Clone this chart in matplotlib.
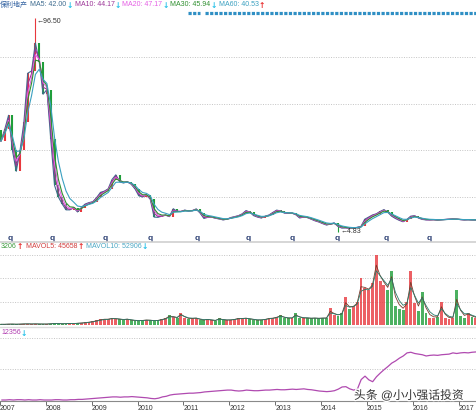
import numpy as np
import pandas as pd
import matplotlib
matplotlib.use('Agg')
import matplotlib.pyplot as plt
from matplotlib import patheffects as pe
from matplotlib.transforms import blended_transform_factory
from matplotlib.lines import Line2D

plt.rcParams['font.family'] = ['Liberation Sans', 'Noto Sans CJK SC', 'DejaVu Sans']

# monthly closes, Jan 2007 .. May 2017
closes = [44, 49, 55, 40, 31, 40, 52, 73, 74, 86, 78, 64,
          66, 45, 25, 20, 17, 14.5, 14.5, 15.5, 13.6, 15.5, 17, 17.6,
          18, 19.8, 22, 22.5, 23.5, 27.5, 29.5, 26.5, 26, 26.5, 25.5, 23.5,
          20.5, 20, 21, 19, 11.4, 11.3, 11.8, 12.3, 11.6, 15, 13.8, 13.8,
          14.4, 14, 14.2, 14.9, 13.1, 10.8, 11.3, 11.4, 10.9, 10.6, 10.2, 10.5,
          11.2, 11.6, 12, 12.8, 14.2, 13.5, 12, 11.4, 11, 11.8, 12.3, 13.4,
          14.4, 14, 13.1, 13, 13.1, 12.4, 11, 11.4, 11.2, 10.5, 9.8, 9.3,
          8.6, 8, 8.4, 8.9, 7.4, 6.7, 6.8, 6.6, 6.7, 7, 7.4, 10.5,
          11.4, 12.3, 12.8, 13.8, 14.6, 13.5, 11.8, 10.8, 10, 9.4, 10.4, 11.8,
          12, 11, 10.4, 10.2, 10.2, 10.3, 10.1, 10.3, 10.4, 10.5, 10.6, 10.5,
          10.3, 10.2, 10.3, 10.2, 10.2]
first_open = 48.5

# volume (grid units), same months
volumes = [0.03, 0.03, 0.04, 0.04, 0.03, 0.04, 0.05, 0.05, 0.04, 0.05, 0.04, 0.04,
           0.04, 0.06, 0.07, 0.06, 0.05, 0.06, 0.07, 0.06, 0.08, 0.09, 0.11, 0.13,
           0.16, 0.2, 0.24, 0.26, 0.25, 0.3, 0.27, 0.24, 0.22, 0.26, 0.2, 0.18,
           0.18, 0.2, 0.22, 0.2, 0.18, 0.2, 0.25, 0.3, 0.43, 0.35, 0.3, 0.53,
           0.3, 0.25, 0.28, 0.3, 0.22, 0.2, 0.25, 0.2, 0.18, 0.3, 0.22, 0.2,
           0.22, 0.25, 0.3, 0.28, 0.3, 0.25, 0.22, 0.2, 0.22, 0.25, 0.3, 0.3,
           0.35, 0.43, 0.3, 0.28, 0.3, 0.5, 0.3, 0.28, 0.3, 0.28, 0.3, 0.28,
           0.3, 0.3, 0.73, 0.45, 0.4, 0.5, 1.2, 0.7, 0.8, 1.0, 2.0, 1.6,
           1.5, 1.8, 3.0, 1.9, 1.7, 1.5, 2.3, 0.8, 0.7, 0.64, 1.0, 2.3,
           0.94, 0.6, 1.4, 0.5, 0.3, 0.3, 0.35, 1.0, 0.3, 0.25, 0.3, 1.5,
           0.4, 0.3, 0.5, 0.35, 0.3]

# lower indicator line
obv = [0.0, 0.0, 0.01, 0.0, 0.01, 0.01, 0.0, 0.01, 0.0, 0.0, 0.01, 0.0,
       0.0, 0.0, 0.01, 0.01, 0.0, 0.0, 0.01, 0.01, 0.02, 0.02, 0.03, 0.04,
       0.05, 0.06, 0.07, 0.08, 0.09, 0.1, 0.1, 0.09, 0.1, 0.1, 0.11, 0.1,
       0.09, 0.08, 0.07, 0.05, 0.04, 0.06, 0.1, 0.12, 0.16, 0.18, 0.19, 0.2,
       0.21, 0.22, 0.22, 0.23, 0.24, 0.26, 0.27, 0.28, 0.29, 0.3, 0.31, 0.32,
       0.32, 0.3, 0.29, 0.3, 0.32, 0.31, 0.3, 0.3, 0.31, 0.32, 0.32, 0.33,
       0.34, 0.33, 0.33, 0.34, 0.35, 0.34, 0.35, 0.36, 0.34, 0.33, 0.31, 0.29,
       0.28, 0.27, 0.28, 0.3, 0.35, 0.42, 0.43, 0.36, 0.32, 0.35, 0.66, 0.77,
       0.65, 0.59, 0.75, 0.87, 0.98, 1.08, 1.19, 1.26, 1.35, 1.42, 1.52, 1.54,
       1.5, 1.48, 1.46, 1.42, 1.44, 1.45, 1.44, 1.46, 1.47, 1.48, 1.52, 1.5,
       1.52, 1.53, 1.52, 1.54, 1.55]

peak_month, peak_price = 9, 96.50
low_month, low_price = 88, 4.83
exright_months = [2.4, 13.3, 27.2, 39.1, 51.2, 64.5, 76.0, 87.7, 100.5, 111.8]
event_spans = [(48.8, 51.9), (53.3, 124.3)]
years = list(range(2007, 2018))

ma_names = ['MA5', 'MA10', 'MA20', 'MA30', 'MA60']
ma_values = ['42.00', '44.17', '47.17', '45.94', '40.53']
ma_dirs = ['↓', '↓', '↓', '↓', '↑']
ma_colors = ['#3d6b8f', '#9b3497', '#e55fe5', '#2f8f2f', '#3aa0c0']
ma_spans = [1, 1.5, 2, 2.5, 4]   # daily MAs approximated on monthly data

UP, DOWN = '#e8383d', '#1f9e3a'
CYAN, RED = '#25c0e8', '#e82c2c'

s = pd.Series(closes, dtype=float)
opens = np.r_[first_open, s.values[:-1]]
n = len(s)
m = np.arange(n)
up = s.values >= opens
cols = np.where(up, UP, DOWN)

W, H = 477, 412
fig = plt.figure(figsize=(W / 100, H / 100), dpi=100)
fig.patch.set_facecolor('white')
renderer = fig.canvas.get_renderer()

def fx(px):
    return px / W

def fy(px):
    return 1 - px / H

def label(x, y, txt, color, arrow=None, size=5):
    # text followed by a small up/down arrow; returns right end in px
    t = fig.text(fx(x), fy(y), txt, fontsize=size, color=color, va='center')
    x1 = t.get_window_extent(renderer).x1
    if arrow:
        fig.text(fx(x1 + 3), fy(y), arrow, fontsize=5.5, fontweight='bold',
                 color=CYAN if arrow == '↓' else RED, va='center', ha='center',
                 family=['DejaVu Sans'])
        x1 += 5.5
    return x1

xlim = (-0.24, 124.3)

# ---------- price panel
ax = fig.add_axes([0, fy(236), 1, (236 - 10) / H])
ax.set_xlim(xlim)
ax.set_ylim(3.3, 100.1)
for y in [20, 40, 60, 80]:
    ax.axhline(y, color='#c4c4c4', lw=0.7, ls=(0, (1, 1.5)), zorder=0)
ax.vlines(m, np.minimum(opens, s), np.maximum(opens, s), colors=cols, lw=1.5, zorder=2)
ax.vlines([peak_month], [max(opens[peak_month], closes[peak_month])], [peak_price],
          colors=UP, lw=0.8, zorder=2)
ax.vlines([low_month], [low_price], [min(opens[low_month], closes[low_month])],
          colors=DOWN, lw=0.8, zorder=2)
for sp, c in zip(ma_spans, ma_colors):
    ax.plot(m, s.ewm(span=sp).mean(), color=c, lw=0.8, zorder=3)
ax.annotate('←96.50', xy=(peak_month, peak_price), xytext=(1, -2.5),
            textcoords='offset points', fontsize=5, color='#333333', va='center')
ax.annotate('←4.83', xy=(low_month, low_price), xytext=(1.5, 0.5),
            textcoords='offset points', fontsize=5, color='#333333', va='center')
tr = blended_transform_factory(ax.transData, ax.transAxes)
for a, b in event_spans:
    ax.plot([a, b], [0.985, 0.985], transform=tr, color='#2f8fc4', lw=2.3,
            ls=(0, (1.0, 0.45)), dash_capstyle='butt', clip_on=False)
ax.axis('off')

trq = blended_transform_factory(ax.transData, fig.transFigure)
for q in exright_months:
    ax.text(q, fy(238.5), 'q', transform=trq, fontsize=6, fontweight='bold',
            color='#2b3f73', ha='center', va='center', clip_on=False)
fig.add_artist(Line2D([0, 1], [fy(242), fy(242)], color='#cfcfcf', lw=1.2))

# header text
end = label(0, 5, '保利地产', '#3060a0')
ma_x = [28.5, 71, 119, 167, 216]
for nm, v, d, c, x0 in zip(ma_names, ma_values, ma_dirs, ma_colors, ma_x):
    end = label(max(x0, end + 2.5), 5, f'{nm}: {v}', c, d)

# ---------- volume panel
axv = fig.add_axes([0, fy(326), 1, (326 - 250) / H])
axv.set_xlim(xlim)
axv.set_ylim(-1 / 23.3, 75 / 23.3)
for y in [1, 2, 3]:
    axv.axhline(y, color='#c4c4c4', lw=0.7, ls=(0, (1, 1.5)), zorder=0)
vs = pd.Series(volumes)
axv.bar(m, vs, width=0.75, color=cols, alpha=0.8, lw=0, zorder=2)
axv.plot(m, vs.ewm(span=2).mean(), color='#7a3a2a', lw=0.6, zorder=3)
axv.plot(m, vs.ewm(span=3).mean(), color='#2a7a6a', lw=0.6, zorder=3)
axv.axis('off')
fig.add_artist(Line2D([0, 1], [fy(327), fy(327)], color='#dcdcdc', lw=1.0))

end = label(1, 247, '3206', '#3c9a3c', '↑')
end = label(max(26, end + 2.5), 247, 'MAVOL5: 45658', '#d23c3c', '↑')
label(max(86, end + 2.5), 247, 'MAVOL10: 52906', '#4aa7c4', '↓')

# ---------- lower indicator
axo = fig.add_axes([0, fy(400.5), 1, (400.5 - 336) / H])
axo.set_xlim(xlim)
axo.set_ylim(-0.016, 64 / 31)
for y in [1, 2]:
    axo.axhline(y, color='#c4c4c4', lw=0.7, ls=(0, (1, 1.5)), zorder=0)
axo.plot(m, obv, color='#b04ab0', lw=0.9)
for side in ['top', 'left', 'right']:
    axo.spines[side].set_visible(False)
axo.spines['bottom'].set_color('#8a8a8a')
axo.set_yticks([])
axo.set_xticks([12 * (yr - years[0]) - 0.5 for yr in years])
axo.set_xticklabels([str(yr) for yr in years], fontsize=5, color='#333333')
plt.setp(axo.get_xticklabels(), ha='left')
axo.tick_params(axis='x', length=3, width=0.6, color='#555555', pad=0.5)

label(1, 333, '12356', '#b03cb0', '↓')

fig.text(fx(354), fy(396), '头条 @小小强话投资', fontsize=8.5, color='#333333',
         va='center', path_effects=[pe.withStroke(linewidth=2, foreground='white')])

fig.savefig('out.png', dpi=100)
